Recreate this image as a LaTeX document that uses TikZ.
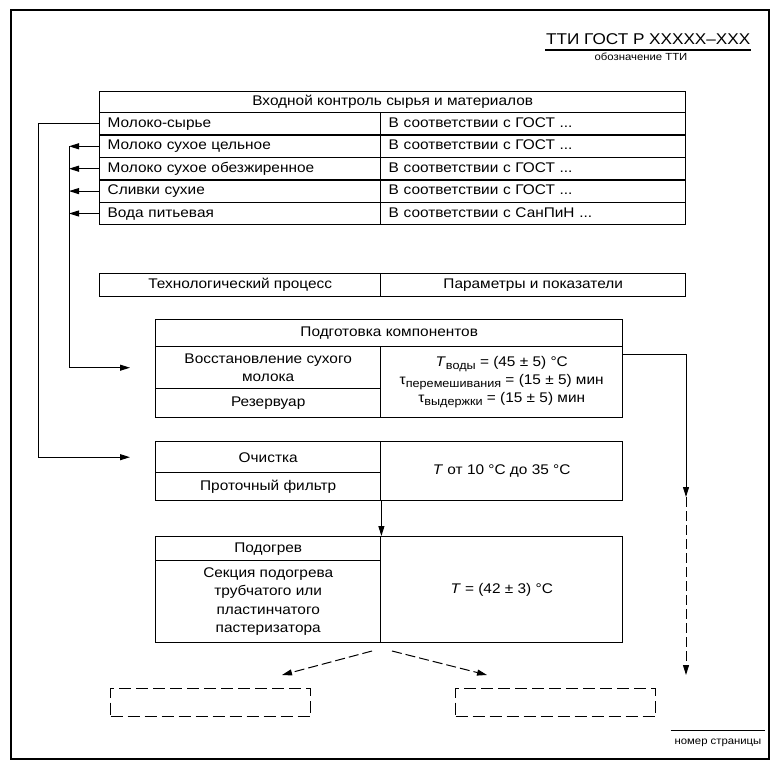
\documentclass[tikz,border=0pt]{standalone}
\usepackage{fontspec}
\setmainfont[FakeStretch=1.1]{Liberation Sans}
\usetikzlibrary{arrows.meta,positioning}
\newcommand\sub[1]{\raisebox{-0.4ex}{\fontsize{11.5}{12}\selectfont #1}}
\begin{document}
\begin{tikzpicture}[x=1pt,y=-1pt,line width=1.4pt,font=\fontsize{14}{18}\selectfont,
		cell/.style={draw,anchor=north west,inner sep=0pt,align=center},
		lrow/.style={cell,minimum height=22.4,inner xsep=8pt,text width=265pt,align=left,text height=10pt,text depth=3pt},
		rrow/.style={cell,minimum height=22.4,inner xsep=8pt,text width=289pt,align=left,text height=10pt,text depth=3pt},
		nextbox/.style={cell,dash pattern=on 12pt off 5pt,minimum width=200,minimum height=28},
		arr/.style={-{Triangle[length=10pt,width=6pt]},line width=1pt},
		small/.style={font=\fontsize{10.3}{12}\selectfont}]
	\useasboundingbox (0,0) rectangle (774,765);
	\draw[line width=1.5pt] (11,10) rectangle (769,759);
	% title block
	\node[anchor=base east,inner sep=0pt,font=\fontsize{15.6}{18}\selectfont] (tti) at (751,45) {ТТИ ГОСТ Р XXXXX–XXX};
	\draw[line width=1.3pt] ([yshift=-5]tti.base west) -- ([yshift=-5]tti.base east);
	\node[anchor=base,small] (ttisub) at (641,61) {обозначение ТТИ};
	% incoming control
	\node[cell,minimum width=586,minimum height=21] (inhead) at (99,91) {Входной контроль сырья и материалов};
	\foreach \name/\txt/\norm [count=\i from 0] in {raw/Молоко-сырье/ГОСТ,whole/Молоко сухое цельное/ГОСТ,
			skim/Молоко сухое обезжиренное/ГОСТ,cream/Сливки сухие/ГОСТ,water/Вода питьевая/СанПиН}{
		\node[lrow] (\name) at (99,{112+22.4*\i}) {\txt};
		\node[rrow] (\name-n) at (380,{112+22.4*\i}) {В соответствии с \norm\ ...};
	}
	\node[cell,minimum width=281,minimum height=23] (proc) at (99,273) {Технологический процесс};
	\node[cell,minimum width=305,minimum height=23] (par) at (380,273) {Параметры и показатели};
	% preparation
	\node[cell,minimum width=467,minimum height=27] (prep) at (155,319) {Подготовка компонентов};
	\node[cell,minimum width=225,minimum height=42] (restore) at (155,346) {Восстановление сухого\\молока};
	\node[cell,minimum width=225,minimum height=29] (tank) at (155,388) {Резервуар};
	\node[cell,minimum width=242,minimum height=71] (prepp) at (380,346)
		{\textit{T}\sub{воды} = (45 ± 5) °C\\
		τ\sub{перемешивания} = (15 ± 5) мин\\
		τ\sub{выдержки} = (15 ± 5) мин};
	% cleaning
	\node[cell,minimum width=225,minimum height=31] (clean) at (155,441) {Очистка};
	\node[cell,minimum width=225,minimum height=28] (filter) at (155,472) {Проточный фильтр};
	\node[cell,minimum width=242,minimum height=59] (cleanp) at (380,441) {\textit{T} от 10 °C до 35 °C};
	% heating
	\node[cell,minimum width=225,minimum height=24] (heat) at (155,536) {Подогрев};
	\node[cell,minimum width=225,minimum height=82,font=\fontsize{14}{18.5}\selectfont] (sect) at (155,560)
		{Секция подогрева\\трубчатого или\\пластинчатого\\пастеризатора};
	\node[cell,minimum width=242,minimum height=106] (heatp) at (380,536) {\textit{T} = (42 ± 3) °C};
	\node[nextbox] (nextL) at (110,688) {};
	\node[nextbox] (nextR) at (455,688) {};
	% connectors
	\coordinate (rmid) at (686,497);
	\coordinate (rend) at (686,675);
	\coordinate (splitL) at (372,651);
	\coordinate (tipL) at (282,675);
	\coordinate (splitR) at (392,651);
	\coordinate (tipR) at (487,675);
	\draw[arr,shorten >=25pt] (raw.west) -- ++(-61,0) |- (clean.west);
	\foreach \name in {whole,skim,cream,water}
		\draw[arr] (\name.west) -- ++(-30,0);
	\draw[arr,shorten >=25pt] (whole.west) ++(-30,0) |- (restore.west);
	\draw[arr] ([yshift=-8]prepp.north east) -| (rmid);
	\draw[arr,dash pattern=on 10pt off 4pt] (rmid) -- (rend);
	\draw[arr] (filter.south east) -- (heat.north east);
	\draw[arr,dash pattern=on 10pt off 4pt] (splitL) -- (tipL);
	\draw[arr,dash pattern=on 10pt off 4pt] (splitR) -- (tipR);
	% page number
	\node[anchor=base,small] (pnum) at (718,744) {номер страницы};
	\draw[line width=1.1pt] ([yshift=4]pnum.north west) -- ([yshift=4]pnum.north east);
\end{tikzpicture}
\end{document}
